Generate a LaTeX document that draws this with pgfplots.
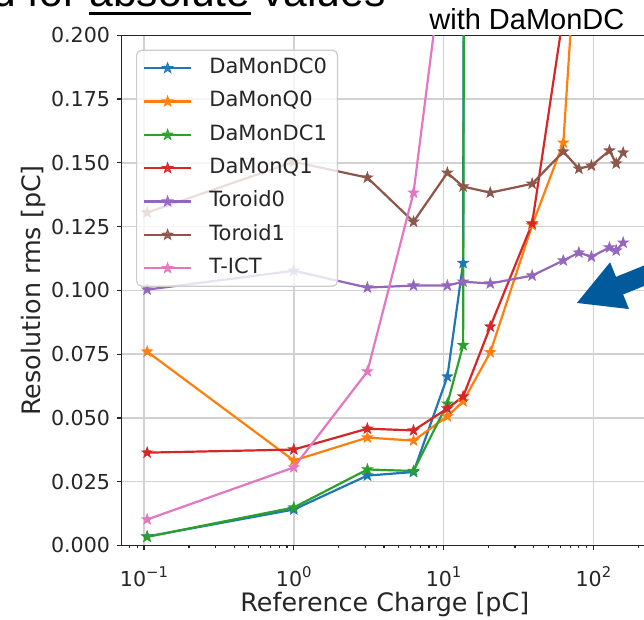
\documentclass[border=0pt]{standalone}
\usepackage{fontspec}
\setmainfont{DejaVu Sans}
\newfontfamily\slidefont{Liberation Sans}
\usepackage{pgfplots}
\pgfplotsset{compat=1.18}
\usetikzlibrary{arrows.meta}

\definecolor{c0}{HTML}{1F77B4}
\definecolor{c1}{HTML}{FF7F0E}
\definecolor{c2}{HTML}{2CA02C}
\definecolor{c3}{HTML}{D62728}
\definecolor{c4}{HTML}{9467BD}
\definecolor{c5}{HTML}{8C564B}
\definecolor{c6}{HTML}{E377C2}
\definecolor{arrowblue}{HTML}{005A9C}

\pgfdeclareplotmark{fstar}{%
  \pgfpathmoveto{\pgfpointpolar{90}{\pgfplotmarksize}}%
  \pgfpathlineto{\pgfpointpolar{126}{0.4\pgfplotmarksize}}%
  \pgfpathlineto{\pgfpointpolar{162}{\pgfplotmarksize}}%
  \pgfpathlineto{\pgfpointpolar{198}{0.4\pgfplotmarksize}}%
  \pgfpathlineto{\pgfpointpolar{234}{\pgfplotmarksize}}%
  \pgfpathlineto{\pgfpointpolar{270}{0.4\pgfplotmarksize}}%
  \pgfpathlineto{\pgfpointpolar{306}{\pgfplotmarksize}}%
  \pgfpathlineto{\pgfpointpolar{342}{0.4\pgfplotmarksize}}%
  \pgfpathlineto{\pgfpointpolar{18}{\pgfplotmarksize}}%
  \pgfpathlineto{\pgfpointpolar{54}{0.4\pgfplotmarksize}}%
  \pgfpathclose
  \pgfusepathqfillstroke}

\newcommand{\tenpow}[1]{10\raisebox{0.85ex}{\fontsize{7.4}{8}\selectfont #1}}

\begin{document}
\begin{tikzpicture}[x=1pt,y=1pt]
\useasboundingbox (0,0) rectangle (322,310);
\clip (0,0) rectangle (322,310);
\begin{axis}[
  at={(60.85pt,37.25pt)}, anchor=south west,
  scale only axis, width=263.15pt, height=255.1pt,
  xmode=log, xmin=0.07099, xmax=231.5, ymin=0, ymax=0.2,
  xtick={0.1,1,10,100},
  xticklabels={\tenpow{\char"2212 1},\tenpow{0},\tenpow{1},\tenpow{2}},
  minor xtick={0.08,0.09,0.2,0.3,0.4,0.5,0.6,0.7,0.8,0.9,2,3,4,5,6,7,8,9,20,30,40,50,60,70,80,90,200},
  ytick={0,0.025,0.05,0.075,0.1,0.125,0.15,0.175,0.2},
  scaled y ticks=false,
  yticklabel style={/pgf/number format/.cd, fixed, fixed zerofill, precision=3, assume math mode=true},
  ticklabel style={font=\fontsize{10.3}{12}\selectfont, text=black!85},
  xticklabel style={anchor=base, yshift=-18.25pt},
  tick align=outside, xtick pos=bottom, ytick pos=left,
  major tick length=2.3pt, minor tick length=1.3pt,
  every tick/.style={black!85, line width=0.6pt},
  axis line style={black!85, line width=0.6pt},
  grid=major, major grid style={black!18, line width=0.75pt},
  xlabel={Reference Charge [pC]},
  ylabel={Resolution rms [pC]},
  xlabel style={at={(axis description cs:0.5,-0.130)}, anchor=base, font=\fontsize{12.7}{15}\selectfont, text=black!85},
  ylabel style={at={(axis description cs:-0.1552,0.5)}, anchor=base, font=\fontsize{12.7}{15}\selectfont, text=black!85},
  legend style={at={(0.0272,0.972)}, anchor=north west, draw=black!20, line width=0.6pt,
    rounded corners=2.5pt, fill=white, fill opacity=0.8, text opacity=1, draw opacity=1,
    inner xsep=3.3pt, inner ysep=2pt, row sep=2.67pt,
    font=\fontsize{10.5}{12}\selectfont,
    nodes={inner xsep=2pt, inner ysep=2pt, text height=7.6pt, text depth=2.4pt, text=black!85}},
  legend cell align=left,
  legend image code/.code={\draw[mark repeat=2, mark phase=2] plot coordinates {(0pt,0pt) (11.65pt,0pt) (23.3pt,0pt)}; \path (30pt,0pt);},
  every axis plot/.append style={line width=1.1pt, mark=fstar, mark size=2.6pt, mark options={solid, line width=0.5pt}},
]
\addplot[c0] coordinates {(0.105,0.0035) (1.0,0.0141) (3.1,0.0274) (6.3,0.0288) (10.6,0.0662) (13.5,0.1107) (20.5,5)};
\addlegendentry{DaMonDC0}
\addplot[c1] coordinates {(0.105,0.0760) (1.0,0.0333) (3.1,0.0423) (6.3,0.0411) (10.6,0.0506) (13.5,0.0565) (20.5,0.0757) (39,0.1255) (63,0.1579) (80,0.251) (97,0.4)};
\addlegendentry{DaMonQ0}
\addplot[c2] coordinates {(0.105,0.0034) (1.0,0.0149) (3.1,0.0298) (6.3,0.0292) (10.6,0.0556) (13.5,0.0785) (20.5,5)};
\addlegendentry{DaMonDC1}
\addplot[c3] coordinates {(0.105,0.0364) (1.0,0.0376) (3.1,0.0458) (6.3,0.0451) (10.6,0.0537) (13.5,0.0584) (20.5,0.0858) (39,0.1262) (63,0.208) (80,0.3)};
\addlegendentry{DaMonQ1}
\addplot[c4] coordinates {(0.105,0.1003) (1.0,0.1077) (3.1,0.1011) (6.3,0.1019) (10.6,0.1019) (13.5,0.1034) (20.5,0.1027) (39,0.1058) (63,0.1117) (80,0.1148) (97,0.1132) (128,0.1168) (142,0.1156) (158,0.1187)};
\addlegendentry{Toroid0}
\addplot[c5] coordinates {(0.105,0.1305) (1.0,0.1504) (3.1,0.1442) (6.3,0.1269) (10.6,0.1461) (13.5,0.1407) (20.5,0.1383) (39,0.1418) (63,0.1544) (80,0.1477) (97,0.1489) (128,0.1548) (142,0.1497) (158,0.1540)};
\addlegendentry{Toroid1}
\addplot[c6] coordinates {(0.105,0.0102) (1.0,0.0306) (3.1,0.0682) (6.3,0.1383) (10.6,0.243)};
\addlegendentry{T-ICT}
\end{axis}
\node[anchor=base west, inner sep=0pt, font=\slidefont\fontsize{21.3}{24}\selectfont] at (-4,306.75) {d for absolute values};
\fill[black] (44.5,302.35) rectangle (125.5,303.85);
\node[anchor=base west, inner sep=0pt, font=\slidefont\fontsize{14.5}{17}\selectfont] at (214.5,295.35) {with DaMonDC};
\draw[arrowblue, line width=9.5pt, -{Triangle[length=23.5pt, width=23.5pt]}] (334.35,177.1) -- (288,158.35);
\end{tikzpicture}
\end{document}
